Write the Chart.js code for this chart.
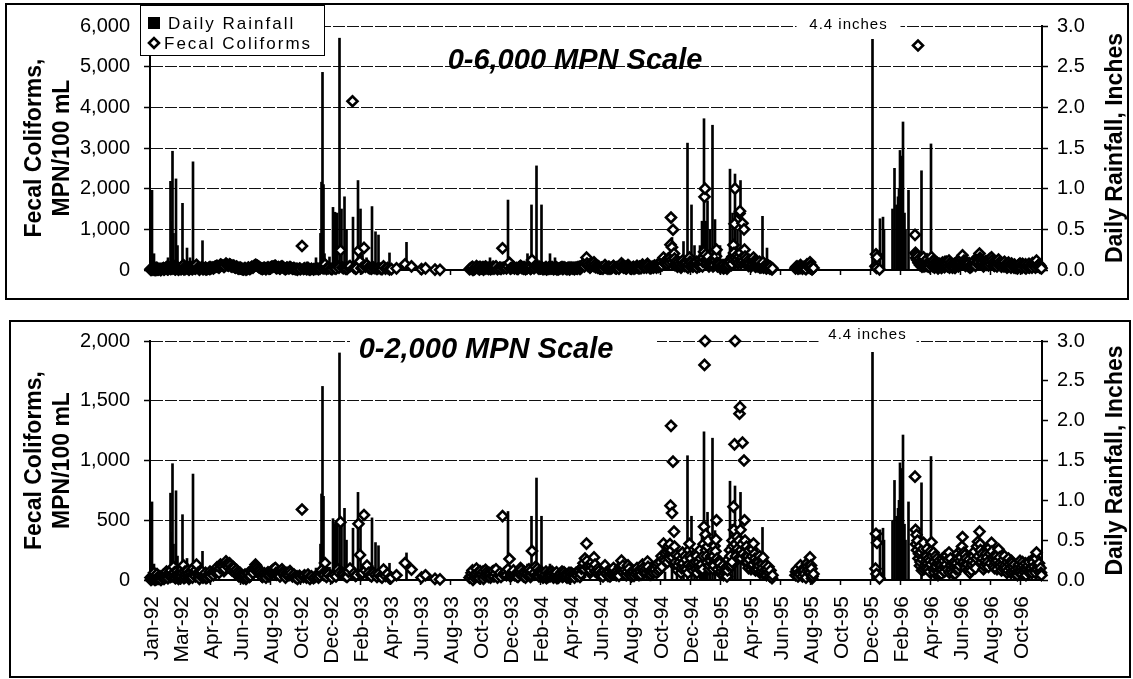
<!DOCTYPE html>
<html>
<head>
<meta charset="utf-8">
<script src="https://cdn.jsdelivr.net/npm/chart.js@4.4.0/dist/chart.umd.min.js"></script>
<style>
  html, body { margin: 0; padding: 0; background: #fff; }
  body { width: 1133px; height: 679px; position: relative; overflow: hidden; }
  canvas { position: absolute; left: 0; }
  .frame { position: absolute; border: 2px solid #000; box-sizing: border-box; pointer-events: none; }
</style>
</head>
<body>
<canvas id="panelTop" width="1133" height="300" style="top:0"></canvas>
<canvas id="panelBottom" width="1133" height="369" style="top:310px"></canvas>
<div class="frame" style="left:5px;top:3px;width:1124px;height:297px"></div>
<div class="frame" style="left:9px;top:320px;width:1122px;height:358px"></div>
<script>
// Monitoring record, Jan 1992 - Nov 1996
const axisStart = '1992-01-01';
const axisEnd = '1996-11-19';

const xTickDates = [
  '1992-01-01','1992-03-01','1992-04-30','1992-06-29','1992-08-28','1992-10-27','1992-12-26',
  '1993-02-24','1993-04-25','1993-06-24','1993-08-23','1993-10-22','1993-12-21',
  '1994-02-19','1994-04-20','1994-06-19','1994-08-18','1994-10-17','1994-12-16',
  '1995-02-14','1995-04-15','1995-06-14','1995-08-13','1995-10-12','1995-12-11',
  '1996-02-09','1996-04-09','1996-06-08','1996-08-07','1996-10-06'
];
const xTickLabels = [
  'Jan-92','Mar-92','Apr-92','Jun-92','Aug-92','Oct-92','Dec-92',
  'Feb-93','Apr-93','Jun-93','Aug-93','Oct-93','Dec-93',
  'Feb-94','Apr-94','Jun-94','Aug-94','Oct-94','Dec-94',
  'Feb-95','Apr-95','Jun-95','Aug-95','Oct-95','Dec-95',
  'Feb-96','Apr-96','Jun-96','Aug-96','Oct-96'
];

// Daily rainfall, inches
const dailyRainfall = [
  ['1992-01-05',0.98],['1992-01-09',0.2],['1992-01-13',0.1],['1992-01-30',0.08],['1992-02-06',0.15],
  ['1992-02-11',1.09],['1992-02-13',0.6],['1992-02-15',1.46],['1992-02-17',0.45],['1992-02-22',1.12],
  ['1992-02-25',0.3],['1992-03-06',0.82],['1992-03-15',0.27],['1992-03-21',0.15],['1992-03-27',1.33],
  ['1992-04-02',0.12],['1992-04-15',0.36],['1992-04-30',0.05],['1992-11-10',0.1],['1992-11-28',0.15],
  ['1992-12-07',0.45],['1992-12-09',1.08],['1992-12-11',2.43],['1992-12-13',1.05],['1992-12-15',0.2],
  ['1992-12-25',0.16],['1993-01-01',0.77],['1993-01-05',0.71],['1993-01-07',0.6],['1993-01-09',0.7],
  ['1993-01-14',2.85],['1993-01-18',0.75],['1993-01-24',0.9],['1993-01-28',0.5],['1993-02-10',0.65],
  ['1993-02-20',1.1],['1993-02-25',0.75],['1993-03-01',0.2],['1993-03-09',0.15],['1993-03-20',0.78],
  ['1993-03-27',0.47],['1993-04-02',0.43],['1993-04-12',0.1],['1993-04-24',0.21],['1993-05-28',0.34],
  ['1993-10-27',0.1],['1993-11-11',0.15],['1993-12-06',0.1],['1993-12-17',0.86],['1994-01-25',0.2],
  ['1994-02-02',0.8],['1994-02-12',1.28],['1994-02-22',0.8],['1994-03-11',0.2],['1994-03-21',0.15],
  ['1994-04-28',0.1],['1994-10-27',0.1],['1994-11-10',0.4],['1994-11-20',0.2],['1994-12-03',0.35],
  ['1994-12-11',1.56],['1994-12-19',0.8],['1994-12-25',0.3],['1995-01-05',0.3],['1995-01-09',0.6],
  ['1995-01-13',1.86],['1995-01-17',0.6],['1995-01-20',0.85],['1995-01-25',0.5],['1995-01-30',1.78],
  ['1995-02-04',0.62],['1995-02-14',0.3],['1995-03-06',1.24],['1995-03-11',0.7],['1995-03-16',1.18],
  ['1995-03-21',0.5],['1995-03-27',1.1],['1995-05-10',0.66],['1995-05-19',0.27],['1995-05-26',0.1],
  ['1995-12-16',4.4],['1995-12-31',0.63],['1996-01-06',0.65],['1996-01-08',0.5],['1996-01-25',0.75],
  ['1996-01-29',1.25],['1996-02-02',0.8],['1996-02-05',0.9],['1996-02-07',1.0],['1996-02-09',1.47],
  ['1996-02-11',1.4],['1996-02-13',1.3],['1996-02-15',1.82],['1996-02-18',0.7],['1996-02-20',0.5],
  ['1996-02-26',0.98],['1996-03-23',1.22],['1996-04-11',1.55],['1996-11-08',0.15]
];

// Fecal coliform samples, MPN/100 mL
const fecalColiforms = [
  // 1992
  ['1992-01-02',20],['1992-01-03',0],['1992-01-04',15],['1992-01-06',35],['1992-01-07',10],['1992-01-08',30],
  ['1992-01-09',60],['1992-01-10',15],['1992-01-11',0],['1992-01-13',5],['1992-01-14',40],['1992-01-15',50],
  ['1992-01-16',20],['1992-01-17',10],['1992-01-18',20],['1992-01-21',30],['1992-01-22',5],['1992-01-23',0],
  ['1992-01-24',25],['1992-01-27',35],['1992-01-28',45],['1992-01-29',10],['1992-01-30',20],['1992-02-01',40],
  ['1992-02-03',70],['1992-02-04',30],['1992-02-05',20],['1992-02-06',15],['1992-02-07',55],['1992-02-10',60],
  ['1992-02-11',25],['1992-02-12',80],['1992-02-13',40],['1992-02-14',30],['1992-02-17',110],['1992-02-18',40],
  ['1992-02-19',65],['1992-02-20',20],['1992-02-21',15],['1992-02-24',75],['1992-02-25',30],['1992-02-26',50],
  ['1992-02-27',10],['1992-02-28',25],['1992-03-02',50],['1992-03-03',20],['1992-03-04',35],['1992-03-05',90],
  ['1992-03-06',60],['1992-03-08',123],['1992-03-09',15],['1992-03-10',40],['1992-03-11',70],['1992-03-12',25],
  ['1992-03-13',45],['1992-03-16',80],['1992-03-17',35],['1992-03-18',55],['1992-03-19',10],['1992-03-20',25],
  ['1992-03-23',60],['1992-03-24',30],['1992-03-25',40],['1992-03-26',20],['1992-03-27',95],['1992-03-30',45],
  ['1992-03-31',70],['1992-04-01',30],['1992-04-02',85],['1992-04-03',128],['1992-04-06',60],['1992-04-07',45],
  ['1992-04-08',25],['1992-04-09',10],['1992-04-10',40],['1992-04-13',55],['1992-04-14',70],['1992-04-16',20],
  ['1992-04-17',35],['1992-04-20',30],['1992-04-21',60],['1992-04-22',15],['1992-04-24',20],['1992-04-27',45],
  ['1992-04-28',50],['1992-04-29',25],['1992-04-30',70],['1992-05-01',30],['1992-05-04',60],['1992-05-06',55],
  ['1992-05-07',40],['1992-05-09',70],['1992-05-11',85],['1992-05-13',90],['1992-05-14',105],['1992-05-16',75],
  ['1992-05-18',60],['1992-05-20',100],['1992-05-21',130],['1992-05-23',120],['1992-05-26',110],['1992-05-28',75],
  ['1992-05-29',95],['1992-06-01',156],['1992-06-02',130],['1992-06-04',120],['1992-06-06',105],['1992-06-08',140],
  ['1992-06-10',125],['1992-06-11',95],['1992-06-13',80],['1992-06-15',110],['1992-06-17',100],['1992-06-18',70],
  ['1992-06-20',55],['1992-06-22',85],['1992-06-24',65],['1992-06-25',40],['1992-06-27',30],['1992-06-29',60],
  ['1992-07-01',45],['1992-07-02',30],['1992-07-04',20],['1992-07-06',15],['1992-07-08',35],['1992-07-09',45],
  ['1992-07-11',10],['1992-07-13',20],['1992-07-15',50],['1992-07-16',60],['1992-07-18',25],['1992-07-20',35],
  ['1992-07-22',70],['1992-07-23',80],['1992-07-25',60],['1992-07-27',95],['1992-07-29',110],['1992-07-30',128],
  ['1992-08-01',115],['1992-08-03',100],['1992-08-05',85],['1992-08-06',70],['1992-08-08',55],['1992-08-10',40],
  ['1992-08-12',30],['1992-08-13',25],['1992-08-15',45],['1992-08-17',55],['1992-08-19',35],['1992-08-20',20],
  ['1992-08-22',50],['1992-08-24',65],['1992-08-26',30],['1992-08-27',40],['1992-08-29',60],['1992-08-31',75],
  ['1992-09-01',70],['1992-09-03',85],['1992-09-06',95],['1992-09-08',100],['1992-09-09',60],['1992-09-10',45],
  ['1992-09-12',55],['1992-09-14',70],['1992-09-16',45],['1992-09-17',30],['1992-09-19',75],['1992-09-21',90],
  ['1992-09-23',70],['1992-09-24',55],['1992-09-26',35],['1992-09-28',20],['1992-09-30',45],['1992-10-01',60],
  ['1992-10-03',50],['1992-10-05',40],['1992-10-07',74],['1992-10-09',55],['1992-10-12',30],['1992-10-14',40],
  ['1992-10-15',45],['1992-10-17',25],['1992-10-19',20],['1992-10-21',30],['1992-10-22',10],['1992-10-26',35],
  ['1992-10-28',20],['1992-10-31',590],['1992-11-03',25],['1992-11-05',40],['1992-11-09',20],['1992-11-11',30],
  ['1992-11-12',45],['1992-11-14',20],['1992-11-16',10],['1992-11-19',30],['1992-11-23',15],['1992-11-26',25],
  ['1992-11-30',35],['1992-12-03',20],['1992-12-06',35],['1992-12-09',80],['1992-12-11',50],['1992-12-14',40],
  ['1992-12-16',142],['1992-12-19',25],['1992-12-21',60],['1992-12-23',45],['1992-12-28',30],['1992-12-30',20],
  // 1993
  ['1993-01-04',45],['1993-01-07',30],['1993-01-11',90],['1993-01-13',60],['1993-01-16',484],['1993-01-20',60],
  ['1993-01-22',45],['1993-01-26',35],['1993-01-29',25],['1993-02-01',70],['1993-02-04',96],['1993-02-09',4150],
  ['1993-02-12',55],['1993-02-15',35],['1993-02-17',40],['1993-02-21',470],['1993-02-24',210],['1993-02-27',45],
  ['1993-03-01',60],['1993-03-04',544],['1993-03-07',80],['1993-03-10',120],['1993-03-13',60],['1993-03-16',40],
  ['1993-03-19',30],['1993-03-23',60],['1993-03-26',45],['1993-03-30',25],['1993-04-02',50],['1993-04-06',30],
  ['1993-04-09',20],['1993-04-12',87],['1993-04-16',35],['1993-04-20',50],['1993-04-24',15],['1993-04-28',20],
  ['1993-05-08',40],['1993-05-25',142],['1993-06-07',87],['1993-06-27',20],['1993-07-05',40],['1993-07-24',10],
  ['1993-08-03',5],
  ['1993-10-01',20],['1993-10-04',35],['1993-10-05',60],['1993-10-07',80],['1993-10-08',0],['1993-10-11',20],
  ['1993-10-12',40],['1993-10-14',55],['1993-10-15',95],['1993-10-18',65],['1993-10-19',30],['1993-10-21',15],
  ['1993-10-22',75],['1993-10-25',40],['1993-10-26',50],['1993-10-28',70],['1993-10-29',10],['1993-11-01',30],
  ['1993-11-02',85],['1993-11-04',65],['1993-11-05',40],['1993-11-08',25],['1993-11-09',60],['1993-11-11',50],
  ['1993-11-12',20],['1993-11-15',35],['1993-11-16',70],['1993-11-18',75],['1993-11-19',30],['1993-11-22',55],
  ['1993-11-23',90],['1993-11-26',20],['1993-11-30',45],['1993-12-01',60],['1993-12-03',25],['1993-12-06',535],
  ['1993-12-08',45],['1993-12-10',60],['1993-12-13',70],['1993-12-14',40],['1993-12-17',90],['1993-12-20',176],
  ['1993-12-22',30],['1993-12-23',50],['1993-12-27',55],['1993-12-28',80],['1993-12-30',40],
  // 1994
  ['1994-01-03',50],['1994-01-04',30],['1994-01-06',25],['1994-01-07',60],['1994-01-10',70],['1994-01-11',100],
  ['1994-01-13',85],['1994-01-14',45],['1994-01-17',30],['1994-01-18',70],['1994-01-20',60],['1994-01-21',20],
  ['1994-01-24',40],['1994-01-25',55],['1994-01-27',75],['1994-01-28',90],['1994-01-31',25],['1994-02-01',40],
  ['1994-02-02',80],['1994-02-03',243],['1994-02-07',45],['1994-02-08',60],['1994-02-10',110],['1994-02-14',95],
  ['1994-02-15',50],['1994-02-17',30],['1994-02-18',75],['1994-02-21',45],['1994-02-22',70],['1994-02-24',55],
  ['1994-02-25',20],['1994-02-28',30],['1994-03-01',45],['1994-03-03',70],['1994-03-04',15],['1994-03-07',25],
  ['1994-03-08',60],['1994-03-10',50],['1994-03-11',30],['1994-03-14',40],['1994-03-15',70],['1994-03-17',55],
  ['1994-03-18',20],['1994-03-21',30],['1994-03-22',50],['1994-03-24',65],['1994-03-25',15],['1994-03-28',20],
  ['1994-03-29',35],['1994-03-31',40],['1994-04-01',55],['1994-04-04',70],['1994-04-05',25],['1994-04-07',35],
  ['1994-04-08',65],['1994-04-11',50],['1994-04-12',30],['1994-04-14',20],['1994-04-15',45],['1994-04-18',60],
  ['1994-04-19',15],['1994-04-21',30],['1994-04-22',60],['1994-04-25',50],['1994-04-26',35],['1994-04-28',45],
  ['1994-04-29',20],['1994-05-02',60],['1994-05-03',40],['1994-05-05',35],['1994-05-06',70],['1994-05-09',80],
  ['1994-05-10',25],['1994-05-12',50],['1994-05-13',95],['1994-05-16',110],['1994-05-17',140],['1994-05-19',90],
  ['1994-05-20',180],['1994-05-23',305],['1994-05-24',160],['1994-05-26',100],['1994-05-27',120],['1994-05-30',60],
  ['1994-05-31',80],['1994-06-02',120],['1994-06-03',150],['1994-06-06',100],['1994-06-07',189],['1994-06-09',130],
  ['1994-06-10',70],['1994-06-14',60],['1994-06-15',95],['1994-06-17',75],['1994-06-18',40],['1994-06-21',40],
  ['1994-06-22',60],['1994-06-24',55],['1994-06-25',30],['1994-06-28',80],['1994-06-29',122],['1994-07-01',60],
  ['1994-07-02',50],['1994-07-05',35],['1994-07-06',80],['1994-07-08',70],['1994-07-09',30],['1994-07-12',45],
  ['1994-07-13',60],['1994-07-15',80],['1994-07-16',100],['1994-07-19',60],['1994-07-20',45],['1994-07-22',40],
  ['1994-07-23',70],['1994-07-26',55],['1994-07-27',35],['1994-07-29',110],['1994-07-30',90],['1994-08-01',162],
  ['1994-08-03',90],['1994-08-04',120],['1994-08-05',60],['1994-08-08',85],['1994-08-09',45],['1994-08-11',40],
  ['1994-08-12',70],['1994-08-14',122],['1994-08-16',95],['1994-08-18',55],['1994-08-19',40],['1994-08-21',30],
  ['1994-08-23',60],['1994-08-25',75],['1994-08-26',35],['1994-08-29',50],['1994-08-31',80],['1994-09-01',100],
  ['1994-09-02',60],['1994-09-05',40],['1994-09-06',85],['1994-09-08',70],['1994-09-09',45],['1994-09-12',130],
  ['1994-09-13',100],['1994-09-15',60],['1994-09-16',80],['1994-09-19',95],['1994-09-20',60],['1994-09-22',154],
  ['1994-09-23',110],['1994-09-26',70],['1994-09-27',45],['1994-09-29',45],['1994-09-30',70],['1994-10-03',85],
  ['1994-10-04',60],['1994-10-06',110],['1994-10-07',90],['1994-10-10',60],['1994-10-11',120],['1994-10-13',140],
  ['1994-10-14',75],['1994-10-17',90],['1994-10-18',150],['1994-10-20',200],['1994-10-21',110],['1994-10-24',305],
  ['1994-10-25',180],['1994-10-27',160],['1994-10-28',220],['1994-10-31',240],['1994-11-01',150],['1994-11-02',260],
  ['1994-11-03',284],['1994-11-04',200],['1994-11-05',180],['1994-11-06',300],['1994-11-07',622],['1994-11-08',1290],
  ['1994-11-09',250],['1994-11-10',560],['1994-11-11',190],['1994-11-12',990],['1994-11-14',405],['1994-11-15',280],
  ['1994-11-16',120],['1994-11-17',150],['1994-11-18',210],['1994-11-21',80],['1994-11-22',120],['1994-11-23',200],
  ['1994-11-25',150],['1994-11-28',60],['1994-11-29',100],['1994-11-30',180],['1994-12-01',230],['1994-12-02',140],
  ['1994-12-05',100],['1994-12-06',200],['1994-12-08',170],['1994-12-09',90],['1994-12-12',60],['1994-12-13',130],
  ['1994-12-14',250],['1994-12-15',303],['1994-12-16',203],['1994-12-18',180],['1994-12-19',120],['1994-12-20',100],
  ['1994-12-22',80],['1994-12-23',140],['1994-12-27',150],['1994-12-28',90],['1994-12-29',200],['1994-12-30',60],
  // 1995
  ['1995-01-02',150],['1995-01-03',110],['1995-01-04',90],['1995-01-05',250],['1995-01-06',180],['1995-01-08',130],
  ['1995-01-10',90],['1995-01-11',200],['1995-01-12',300],['1995-01-13',446],['1995-01-14',1800],['1995-01-15',2000],
  ['1995-01-16',380],['1995-01-17',250],['1995-01-18',200],['1995-01-19',150],['1995-01-20',280],['1995-01-21',330],
  ['1995-01-23',90],['1995-01-24',120],['1995-01-26',160],['1995-01-27',200],['1995-01-29',240],['1995-01-30',130],
  ['1995-01-31',90],['1995-02-01',200],['1995-02-02',120],['1995-02-03',284],['1995-02-05',240],['1995-02-06',338],
  ['1995-02-07',500],['1995-02-08',180],['1995-02-09',90],['1995-02-10',150],['1995-02-13',140],['1995-02-14',60],
  ['1995-02-16',70],['1995-02-17',100],['1995-02-20',120],['1995-02-21',40],['1995-02-23',60],['1995-02-24',80],
  ['1995-02-27',110],['1995-02-28',30],['1995-03-01',80],['1995-03-02',170],['1995-03-03',120],['1995-03-06',250],
  ['1995-03-07',200],['1995-03-09',120],['1995-03-10',150],['1995-03-11',330],['1995-03-12',284],['1995-03-13',614],
  ['1995-03-14',420],['1995-03-15',1135],['1995-03-16',2000],['1995-03-17',300],['1995-03-18',200],['1995-03-20',360],
  ['1995-03-21',260],['1995-03-23',180],['1995-03-24',330],['1995-03-25',1392],['1995-03-26',1446],['1995-03-27',420],
  ['1995-03-28',250],['1995-03-29',180],['1995-03-30',300],['1995-03-31',1149],['1995-04-01',220],['1995-04-03',1000],
  ['1995-04-04',500],['1995-04-05',330],['1995-04-06',150],['1995-04-07',200],['1995-04-08',280],['1995-04-10',150],
  ['1995-04-11',200],['1995-04-12',100],['1995-04-13',250],['1995-04-14',170],['1995-04-17',90],['1995-04-18',120],
  ['1995-04-19',200],['1995-04-20',257],['1995-04-21',130],['1995-04-22',305],['1995-04-24',220],['1995-04-25',180],
  ['1995-04-26',80],['1995-04-27',150],['1995-04-28',100],['1995-05-01',90],['1995-05-02',150],['1995-05-03',120],
  ['1995-05-04',200],['1995-05-05',60],['1995-05-08',70],['1995-05-09',130],['1995-05-10',100],['1995-05-11',189],
  ['1995-05-12',60],['1995-05-15',80],['1995-05-16',120],['1995-05-17',50],['1995-05-18',40],['1995-05-19',90],
  ['1995-05-22',110],['1995-05-23',60],['1995-05-25',30],['1995-05-26',80],['1995-05-29',15],['1995-05-30',40],
  ['1995-07-15',40],['1995-07-16',70],['1995-07-18',90],['1995-07-20',30],['1995-07-22',60],['1995-07-24',45],
  ['1995-07-25',122],['1995-07-27',80],['1995-07-29',30],['1995-08-01',80],['1995-08-02',50],['1995-08-05',20],
  ['1995-08-07',140],['1995-08-08',110],['1995-08-10',90],['1995-08-11',60],['1995-08-13',189],['1995-08-14',60],
  ['1995-08-15',122],['1995-08-16',95],['1995-08-17',13],['1995-08-18',30],['1995-08-20',50],
  ['1995-12-22',95],['1995-12-23',387],['1995-12-24',50],['1995-12-25',311],['1995-12-30',14],
  // 1996
  ['1996-03-10',865],['1996-03-11',420],['1996-03-12',300],['1996-03-13',378],['1996-03-14',250],['1996-03-15',330],
  ['1996-03-16',5520],['1996-03-17',180],['1996-03-18',220],['1996-03-19',280],['1996-03-20',120],['1996-03-21',150],
  ['1996-03-22',230],['1996-03-24',80],['1996-03-25',170],['1996-03-26',260],['1996-03-27',311],['1996-03-28',90],
  ['1996-03-29',200],['1996-03-30',120],['1996-03-31',150],['1996-04-01',100],['1996-04-02',200],['1996-04-03',260],
  ['1996-04-04',140],['1996-04-05',90],['1996-04-06',180],['1996-04-08',70],['1996-04-09',160],['1996-04-10',240],
  ['1996-04-11',130],['1996-04-12',316],['1996-04-13',200],['1996-04-15',90],['1996-04-16',230],['1996-04-17',150],
  ['1996-04-18',60],['1996-04-19',100],['1996-04-20',200],['1996-04-22',110],['1996-04-23',180],['1996-04-24',140],
  ['1996-04-25',40],['1996-04-26',60],['1996-04-27',160],['1996-04-29',90],['1996-04-30',140],['1996-05-01',120],
  ['1996-05-02',50],['1996-05-03',90],['1996-05-04',180],['1996-05-06',110],['1996-05-07',160],['1996-05-08',70],
  ['1996-05-09',200],['1996-05-10',110],['1996-05-11',130],['1996-05-12',203],['1996-05-14',90],['1996-05-15',170],
  ['1996-05-17',230],['1996-05-18',60],['1996-05-20',180],['1996-05-21',120],['1996-05-22',90],['1996-05-24',60],
  ['1996-05-25',140],['1996-05-27',100],['1996-05-28',150],['1996-05-29',50],['1996-05-31',90],['1996-06-01',140],
  ['1996-06-03',220],['1996-06-04',180],['1996-06-05',90],['1996-06-07',120],['1996-06-08',160],['1996-06-10',190],
  ['1996-06-11',250],['1996-06-12',280],['1996-06-13',360],['1996-06-15',150],['1996-06-16',230],['1996-06-18',210],
  ['1996-06-19',100],['1996-06-20',180],['1996-06-21',140],['1996-06-23',130],['1996-06-25',90],['1996-06-26',170],
  ['1996-06-28',60],['1996-06-29',100],['1996-07-01',80],['1996-07-02',130],['1996-07-03',160],['1996-07-05',200],
  ['1996-07-07',240],['1996-07-08',140],['1996-07-09',100],['1996-07-11',180],['1996-07-12',280],['1996-07-14',320],
  ['1996-07-15',200],['1996-07-17',405],['1996-07-18',300],['1996-07-19',250],['1996-07-21',150],['1996-07-22',220],
  ['1996-07-23',180],['1996-07-25',90],['1996-07-26',120],['1996-07-28',160],['1996-07-30',220],['1996-07-31',130],
  ['1996-08-01',190],['1996-08-02',150],['1996-08-04',110],['1996-08-06',270],['1996-08-07',220],['1996-08-08',140],
  ['1996-08-10',311],['1996-08-11',240],['1996-08-13',180],['1996-08-14',120],['1996-08-15',200],['1996-08-16',100],
  ['1996-08-18',150],['1996-08-20',200],['1996-08-21',90],['1996-08-22',160],['1996-08-24',257],['1996-08-26',190],
  ['1996-08-27',140],['1996-08-28',110],['1996-08-30',80],['1996-09-01',130],['1996-09-03',170],['1996-09-04',90],
  ['1996-09-05',200],['1996-09-06',120],['1996-09-08',100],['1996-09-10',60],['1996-09-11',150],['1996-09-12',80],
  ['1996-09-13',180],['1996-09-15',130],['1996-09-17',100],['1996-09-18',60],['1996-09-19',160],['1996-09-20',140],
  ['1996-09-22',110],['1996-09-24',60],['1996-09-25',130],['1996-09-27',90],['1996-09-28',50],['1996-10-01',40],
  ['1996-10-02',100],['1996-10-03',70],['1996-10-04',130],['1996-10-06',160],['1996-10-08',70],['1996-10-09',110],
  ['1996-10-10',50],['1996-10-11',150],['1996-10-13',120],['1996-10-15',90],['1996-10-16',60],['1996-10-17',140],
  ['1996-10-18',40],['1996-10-20',90],['1996-10-22',120],['1996-10-23',70],['1996-10-24',150],['1996-10-25',60],
  ['1996-10-27',100],['1996-10-29',100],['1996-10-30',60],['1996-10-31',170],['1996-11-01',150],['1996-11-03',110],
  ['1996-11-05',80],['1996-11-06',60],['1996-11-07',180],['1996-11-08',230],['1996-11-10',90],['1996-11-12',120],
  ['1996-11-13',140],['1996-11-14',70],['1996-11-15',60],['1996-11-16',100],['1996-11-17',60],['1996-11-18',40]
];

const rainAxisMax = 3.0;
const rainAxisStep = 0.5;

// ---- helpers -------------------------------------------------------------
const DAY_MS = 86400000;
const t0 = Date.parse(axisStart + 'T00:00:00Z');
const dayOf = s => Math.round((Date.parse(s + 'T00:00:00Z') - t0) / DAY_MS);

const rainPoints = dailyRainfall.map(([d, v]) => ({ x: dayOf(d), y: v }));
const coliformPoints = fecalColiforms.map(([d, v]) => ({ x: dayOf(d), y: v }));
const peakRain = dailyRainfall.reduce((a, b) => (b[1] > a[1] ? b : a));

const FONT = "'Liberation Sans', Arial, Helvetica, sans-serif";
Chart.defaults.font.family = FONT;
Chart.defaults.color = '#000';

function diamond(ctx, x, y, r) {
  ctx.beginPath();
  ctx.moveTo(x - r, y); ctx.lineTo(x, y - r); ctx.lineTo(x + r, y); ctx.lineTo(x, y + r);
  ctx.closePath();
}

// Titles, legend box, right-hand axis title and the off-scale rainfall note
const panelText = {
  id: 'panelText',
  afterDraw(chart, args, o) {
    const ctx = chart.ctx;
    const xs = chart.scales.x;
    const yr = chart.scales.yR;
    const yl = chart.scales.yL;
    ctx.save();

    // rainfall axis title, reading bottom-to-top like the left one
    ctx.save();
    ctx.translate(o.rightTitleX, (yr.top + yr.bottom) / 2);
    ctx.rotate(-Math.PI / 2);
    ctx.fillStyle = '#000';
    ctx.font = 'bold 23px ' + FONT;
    ctx.textAlign = 'center'; ctx.textBaseline = 'middle';
    ctx.fillText('Daily Rainfall, Inches', 0, 0);
    ctx.restore();

    if (o.legend) {
      const L = o.legend;
      ctx.fillStyle = '#fff';
      ctx.fillRect(L.x, L.y, L.w, L.h);
      ctx.strokeStyle = '#000'; ctx.lineWidth = 1;
      ctx.strokeRect(L.x + 0.5, L.y + 0.5, L.w - 1, L.h - 1);
      ctx.fillStyle = '#000';
      ctx.fillRect(L.x + 8, L.y + 12, 12, 12);
      diamond(ctx, L.x + 14, L.y + 38, 5);
      ctx.fillStyle = '#fff'; ctx.fill();
      ctx.lineWidth = 2.6; ctx.strokeStyle = '#000'; ctx.stroke();
      ctx.fillStyle = '#000';
      ctx.font = '17px ' + FONT;
      ctx.textBaseline = 'alphabetic'; ctx.textAlign = 'left';
      ctx.letterSpacing = '2px';
      ctx.fillText(chart.data.datasets[1].label, L.x + 28, L.y + 24);
      ctx.fillText(chart.data.datasets[0].label, L.x + 24, L.y + 44);
      ctx.letterSpacing = '0px';
    }
    if (o.title) {
      const T = o.title;
      // baseline sits a fixed distance below a chosen gridline value
      const by = yl.getPixelForValue(T.atValue) + T.dy;
      if (T.box) {
        ctx.fillStyle = '#fff';
        ctx.fillRect(T.box[0], by - T.box[1], T.box[2] - T.box[0], T.box[1] + T.box[3]);
      }
      ctx.fillStyle = '#000';
      ctx.font = 'italic bold 29px ' + FONT;
      ctx.textAlign = 'center'; ctx.textBaseline = 'alphabetic';
      ctx.fillText(T.text, T.x, by);
    }
    if (o.note) {
      const N = o.note;
      const cx = xs.getPixelForValue(dayOf(peakRain[0])) + N.dx;
      const ty = yr.top;
      ctx.fillStyle = '#fff';
      ctx.fillRect(cx - N.half, ty - N.up, N.half * 2, N.up + N.down);
      ctx.fillStyle = '#000';
      ctx.font = '15px ' + FONT;
      ctx.letterSpacing = '1px';
      ctx.textAlign = 'center'; ctx.textBaseline = 'middle';
      ctx.fillText(peakRain[1] + ' inches', cx, ty + N.dy);
      ctx.letterSpacing = '0px';
    }
    ctx.restore();
  }
};

function makePanel(id, p) {
  return new Chart(document.getElementById(id), {
    type: 'scatter',
    data: {
      datasets: [
        {
          type: 'scatter', label: 'Fecal Coliforms', data: coliformPoints,
          xAxisID: 'x', yAxisID: 'yL', order: 0, clip: 8,
          pointStyle: 'rectRot', pointRadius: 5, pointBorderWidth: 2.6,
          pointBorderColor: '#000', pointBackgroundColor: '#fff'
        },
        {
          type: 'bar', label: 'Daily Rainfall', data: rainPoints,
          xAxisID: 'x', yAxisID: 'yR', order: 1,
          backgroundColor: '#000', borderWidth: 0, barThickness: 2, grouped: false
        }
      ]
    },
    options: {
      responsive: false, animation: false, events: [],
      layout: { padding: { top: p.padTop, left: 0, right: 0, bottom: 0 } },
      plugins: { legend: { display: false }, tooltip: { enabled: false }, panelText: p.text },
      scales: {
        x: {
          type: 'linear', axis: 'x', position: 'bottom', offset: false,
          min: 0, max: dayOf(axisEnd),
          afterBuildTicks: s => { s.ticks = xTickDates.map(d => ({ value: dayOf(d) })); },
          afterFit: s => { s.height = p.xHeight; },
          grid: { offset: false, drawOnChartArea: false, drawTicks: true, tickLength: 5, tickColor: '#000', tickWidth: 1.5 },
          border: { display: true, color: '#000', width: 2 },
          ticks: {
            display: p.xLabels, autoSkip: false, minRotation: 90, maxRotation: 90,
            padding: 11, labelOffset: 2, font: { size: 21 }, color: '#000',
            callback: (v, i) => xTickLabels[i]
          }
        },
        yL: {
          type: 'linear', axis: 'y', position: 'left', min: 0, max: p.mpnMax,
          afterFit: s => { s.width = 150; },
          ticks: { stepSize: p.mpnStep, font: { size: 20 }, color: '#000', padding: 14,
                   callback: v => v.toLocaleString('en-US') },
          grid: { color: '#111', lineWidth: 1, tickLength: 6, tickColor: '#000', tickWidth: 1.5 },
          border: { display: true, color: '#000', width: 2, dash: [12, 2] },
          title: { display: true, text: ['Fecal Coliforms,', 'MPN/100 mL'], font: { size: 23, weight: 'bold', lineHeight: 1.25 },
                   color: '#000', padding: { top: 20, bottom: 0 } }
        },
        yR: {
          type: 'linear', axis: 'y', position: 'right', min: 0, max: rainAxisMax,
          afterFit: s => { s.width = 91; },
          ticks: { stepSize: rainAxisStep, font: { size: 20 }, color: '#000', padding: 9,
                   callback: v => v.toFixed(1) },
          grid: { drawOnChartArea: false, tickLength: 6, tickColor: '#000', tickWidth: 1.5 },
          border: { display: true, color: '#000', width: 2 },
          title: { display: false }
        }
      }
    },
    plugins: [panelText]
  });
}

makePanel('panelTop', {
  padTop: 17, xHeight: 30, xLabels: false, mpnMax: 6000, mpnStep: 1000,
  text: {
    rightTitleX: 1116,
    legend: { x: 140, y: 5, w: 185, h: 51 },
    title: { text: '0-6,000 MPN Scale', x: 575, atValue: 5000, dy: 2 },
    note: { dx: -24, half: 52, up: 11, down: 13, dy: -1 }
  }
});

makePanel('panelBottom', {
  padTop: 31, xHeight: 99, xLabels: true, mpnMax: 2000, mpnStep: 500,
  text: {
    rightTitleX: 1116,
    title: { text: '0-2,000 MPN Scale', x: 486, atValue: 2000, dy: 17, box: [350, 31, 657, 6] },
    note: { dx: -5, half: 49, up: 15, down: 11, dy: -6 }
  }
});
</script>
</body>
</html>
